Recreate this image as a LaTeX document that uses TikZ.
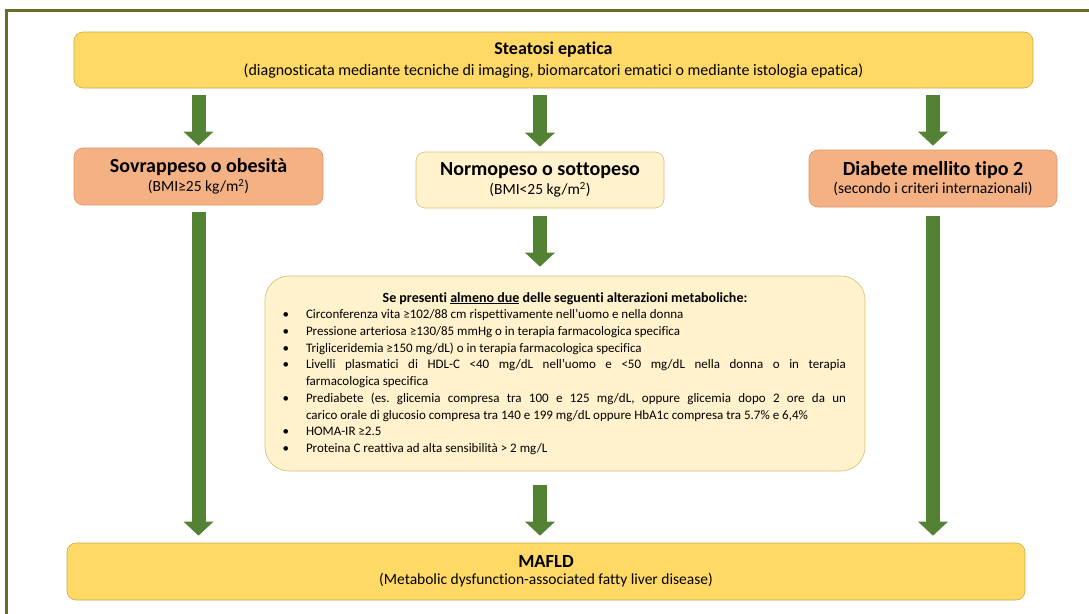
\documentclass[tikz,border=0pt]{standalone}
\usepackage{fontspec}
\setmainfont{Carlito}[Ligatures=NoCommon]
\usepackage{enumitem}
\usetikzlibrary{arrows.meta}
\frenchspacing

\definecolor{framecol}{HTML}{6B6B2C}
\definecolor{gold}{HTML}{FFD966}
\definecolor{goldline}{HTML}{C9A94A}
\definecolor{salmon}{HTML}{F4B183}
\definecolor{salmonline}{HTML}{D9956A}
\definecolor{pale}{HTML}{FFF2CC}
\definecolor{paleline}{HTML}{D3BF73}
\definecolor{arrowgreen}{HTML}{548235}

\newcommand{\titlefont}{\fontsize{20}{24}\selectfont\bfseries}
\newcommand{\notefont}{\fontsize{15.5}{19}\selectfont\mdseries}

\begin{document}
\begin{tikzpicture}[x=1pt,y=-1pt,
    box/.style={draw=#1, line width=0.6pt, rounded corners=9pt, align=center, inner sep=0pt},
    bigarrow/.style={draw=arrowgreen, line width=14pt, -{Triangle[width=29pt,length=14pt]}}]
    \useasboundingbox (0,0) rectangle (1089,613);
    \draw [framecol, line width=3pt] (6,620) -- (6,10) -- (1095,10);

    \node [box=goldline, fill=gold, minimum width=959pt, minimum height=56pt] (top) at (553.5,60)
       {\fontsize{18}{22}\selectfont\bfseries Steatosi epatica\\[5pt]
        \fontsize{16}{19}\selectfont\mdseries (diagnosticata mediante tecniche di imaging, biomarcatori ematici o mediante istologia epatica)};

    \node [box=salmonline, fill=salmon, minimum width=249pt, minimum height=57pt] (sov) at (198.5,176.5)
       {\titlefont Sovrappeso o obesità\\[3pt]
        \notefont (BMI≥25 kg/m\textsuperscript{2})};
    \node [box=paleline, fill=pale, minimum width=248pt, minimum height=56pt] (normo) at (540,180)
       {\titlefont Normopeso o sottopeso\\[3pt]
        \notefont (BMI<25 kg/m\textsuperscript{2})};
    \node [box=salmonline, fill=salmon, minimum width=248pt, minimum height=57pt] (diab) at (933,178.5)
       {\titlefont Diabete mellito tipo 2\\[3pt]
        \notefont (secondo i criteri internazionali)};

    \node [box=paleline, fill=pale, rounded corners=24pt, minimum width=600pt, minimum height=195pt,
           text width=562pt, align=justify, font=\fontsize{13}{16.7}\selectfont] (crit) at (565,373.5)
       {\hyphenpenalty=10000
        {\centering\fontsize{14}{16.7}\selectfont\bfseries Se presenti \underline{almeno due} delle seguenti alterazioni metaboliche:\par}
        \begin{itemize}[nosep, label=\textbullet, leftmargin=22pt, labelwidth=5pt, labelsep=17pt, itemindent=0pt]
          \item Circonferenza vita ≥102/88 cm rispettivamente nell’uomo e nella donna
          \item Pressione arteriosa ≥130/85 mmHg o in terapia farmacologica specifica
          \item Trigliceridemia ≥150 mg/dL) o in terapia farmacologica specifica
          \item Livelli plasmatici di HDL-C <40 mg/dL nell’uomo e <50 mg/dL nella donna o in terapia\linebreak
                farmacologica specifica
          \item Prediabete (es. glicemia compresa tra 100 e 125 mg/dL, oppure glicemia dopo 2 ore da un\linebreak
                carico orale di glucosio compresa tra 140 e 199 mg/dL oppure HbA1c compresa tra 5.7\% e 6,4\%
          \item HOMA-IR ≥2.5
          \item Proteina C reattiva ad alta sensibilità > 2 mg/L
        \end{itemize}};

    \node [box=goldline, fill=gold, minimum width=958pt, minimum height=57pt] (mafld) at (546,571.5)
       {\fontsize{18.5}{22}\selectfont\bfseries MAFLD\\[5pt]
        \fontsize{15.5}{19}\selectfont\mdseries (Metabolic dysfunction-associated fatty liver disease)};

    % frecce
    \draw [bigarrow] ([yshift=-7pt]top.south -| sov.north) -- ([yshift=2pt]sov.north);
    \draw [bigarrow] ([yshift=-7pt]top.south -| normo.north) -- ([yshift=5pt]normo.north);
    \draw [bigarrow] ([yshift=-7pt]top.south -| diab.north) -- ([yshift=4pt]diab.north);
    \draw [bigarrow] ([yshift=-7pt]sov.south) -- ([yshift=7pt]mafld.north -| sov.south);
    \draw [bigarrow] ([yshift=-8pt]normo.south) -- ([yshift=9pt]crit.north -| normo.south);
    \draw [bigarrow] ([yshift=-14pt]crit.south -| normo.south) -- ([yshift=7pt]mafld.north -| normo.south);
    \draw [bigarrow] ([yshift=-9pt]diab.south) -- ([yshift=7pt]mafld.north -| diab.south);
\end{tikzpicture}
\end{document}
